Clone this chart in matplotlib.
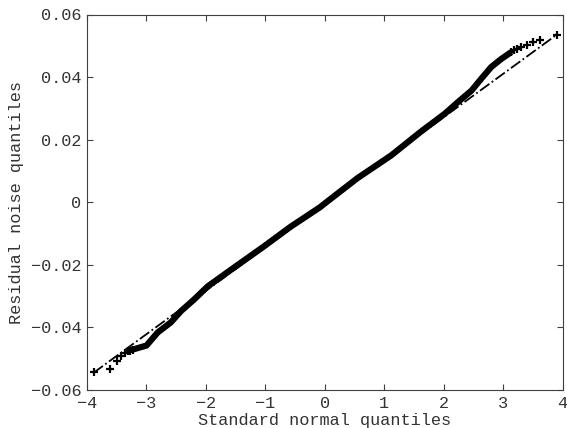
#!/usr/bin/env python3
# QQ plot of residual noise vs standard normal quantiles (MATLAB style)

import matplotlib
matplotlib.use("Agg")
import matplotlib.pyplot as plt

# dense part of the sample quantiles
band_x = [-3.31, -3.2, -3.0, -2.81, -2.59, -2.42, -2.2, -1.97, -1.58, -1.03,
          -0.58, -0.08, 0.04, 0.55, 1.12, 1.62, 2.02, 2.24, 2.47, 2.63,
          2.8, 2.97, 3.14]
band_y = [-0.0474, -0.0469, -0.0458, -0.0416, -0.0384, -0.0348, -0.0311,
          -0.0269, -0.0216, -0.0142, -0.0079, -0.0016, 0.0002, 0.0077, 0.015,
          0.0226, 0.0283, 0.032, 0.0357, 0.0394, 0.0432, 0.0458, 0.048]

# sparse tail points
low_x = [-3.89, -3.61, -3.49, -3.42, -3.36, -3.31, -3.27, -3.22]
low_y = [-0.0544, -0.0534, -0.0507, -0.049, -0.0481, -0.0476, -0.0474, -0.0471]
high_x = [3.14, 3.18, 3.23, 3.31, 3.4, 3.51, 3.62, 3.9]
high_y = [0.048, 0.0485, 0.049, 0.0495, 0.0503, 0.0513, 0.052, 0.0535]

# reference line end points
ref_x = [-3.89, 3.9]
ref_y = [-0.0545, 0.0535]

xticks = [-4, -3, -2, -1, 0, 1, 2, 3, 4]
yticks = [-0.06, -0.04, -0.02, 0, 0.02, 0.04, 0.06]
yticklabels = ['\u22120.06', '\u22120.04', '\u22120.02', '0', '0.02', '0.04', '0.06']
xticklabels = ['\u22124', '\u22123', '\u22122', '\u22121', '0', '1', '2', '3', '4']

plt.rcParams['font.family'] = ['Liberation Mono', 'DejaVu Sans Mono']
plt.rcParams['font.size'] = 12.2

fig = plt.figure(figsize=(5.67, 4.28), dpi=100)
ax = fig.add_axes([87 / 567, 1 - 390 / 428, (562.5 - 87) / 567, (390 - 14.5) / 428])

ax.plot(ref_x, ref_y, color='black', linestyle='-.', linewidth=1.3, zorder=2)
ax.plot(band_x, band_y, color='black', linewidth=4.5, solid_capstyle='butt',
        solid_joinstyle='round', zorder=3)
ax.plot(low_x, low_y, '+', color='black', markersize=6, markeredgewidth=1.6, zorder=3)
ax.plot(high_x, high_y, '+', color='black', markersize=6, markeredgewidth=1.6, zorder=3)

ax.set_xlim(-4, 4)
ax.set_ylim(-0.06, 0.06)
ax.set_xticks(xticks)
ax.set_xticklabels(xticklabels)
ax.set_yticks(yticks)
ax.set_yticklabels(yticklabels)

ax.tick_params(direction='in', length=4, width=0.8, color='#404040',
               top=True, right=True, labelcolor='#333333')
ax.tick_params(axis='x', pad=4)
ax.tick_params(axis='y', pad=4)
for s in ax.spines.values():
    s.set_color('#404040')
    s.set_linewidth(0.8)

ax.set_xlabel('Standard normal quantiles', color='#333333', labelpad=1.5)
ax.set_ylabel('Residual noise quantiles', color='#333333', labelpad=5)

fig.savefig('out.png', dpi=100)
